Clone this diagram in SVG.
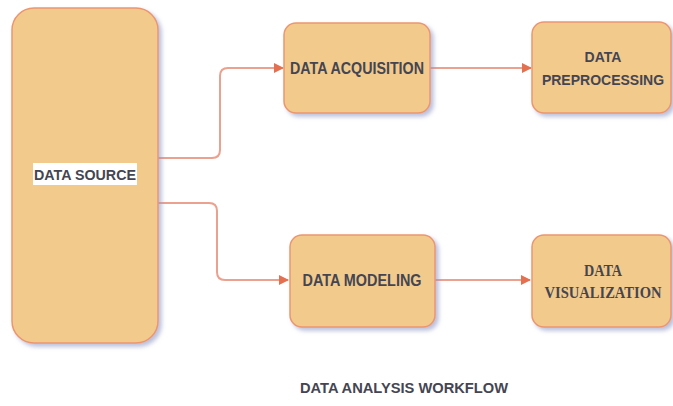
<svg xmlns="http://www.w3.org/2000/svg" width="673" height="406" viewBox="0 0 673 406">
<defs>
<filter id="sh" x="-10%" y="-10%" width="130%" height="130%">
<feDropShadow dx="3" dy="3" stdDeviation="2" flood-color="#8e97c4" flood-opacity="0.6"/>
</filter>
<marker id="arr" viewBox="0 0 10 10" refX="9" refY="5" markerWidth="10" markerHeight="10" markerUnits="userSpaceOnUse" orient="auto">
<path d="M0,0 L10,5 L0,10 Z" fill="#e4704f"/>
</marker>
<style>
.box{fill:#f2cb8c;stroke:#ec9670;stroke-width:1.5;filter:url(#sh)}
.t{font-family:"Liberation Sans",Arial,sans-serif;font-weight:bold;fill:#454552;text-anchor:middle;dominant-baseline:central}
.s{font-family:"Liberation Serif","Times New Roman",serif;font-weight:bold;fill:#454552;text-anchor:middle;dominant-baseline:central}
.c{fill:none;stroke:#eca08e;stroke-width:2;marker-end:url(#arr)}
</style>
</defs>
<rect width="673" height="406" fill="#ffffff"/>
<g id="connectors">
<path class="c" d="M158,158 H212 Q220,158 220,150 V76 Q220,68 228,68 H283"/>
<path class="c" d="M430,68 H531"/>
<path class="c" d="M158,203 H209 Q217,203 217,211 V272 Q217,280 225,280 H288"/>
<path class="c" d="M435,280 H530"/>
</g>
<g id="data-source">
<rect class="box" x="12" y="8" width="146" height="335" rx="22"/>
<rect x="33" y="163" width="104" height="22" fill="#ffffff"/>
<text class="t" x="85" y="174" font-size="15" textLength="102" lengthAdjust="spacingAndGlyphs">DATA SOURCE</text>
</g>
<g id="data-acquisition">
<rect class="box" x="284" y="23" width="146" height="90" rx="12"/>
<text class="t" x="357" y="68" font-size="16" textLength="134" lengthAdjust="spacingAndGlyphs">DATA ACQUISITION</text>
</g>
<g id="data-preprocessing">
<rect class="box" x="532" y="22" width="139" height="91" rx="12"/>
<text class="t" x="603" y="57" font-size="14">DATA</text>
<text class="t" x="603" y="80" font-size="14">PREPROCESSING</text>
</g>
<g id="data-modeling">
<rect class="box" x="290" y="235" width="145" height="92" rx="12"/>
<text class="t" x="362" y="280" font-size="16" textLength="119" lengthAdjust="spacingAndGlyphs">DATA MODELING</text>
</g>
<g id="data-visualization">
<rect class="box" x="532" y="235" width="139" height="92" rx="12"/>
<text class="s" x="603" y="270" font-size="16" textLength="38" lengthAdjust="spacingAndGlyphs">DATA</text>
<text class="s" x="603" y="292" font-size="16" textLength="117" lengthAdjust="spacingAndGlyphs">VISUALIZATION</text>
</g>
<text class="t" x="404" y="388" font-size="14" textLength="208" lengthAdjust="spacingAndGlyphs" fill="#3e4260">DATA ANALYSIS WORKFLOW</text>
</svg>
